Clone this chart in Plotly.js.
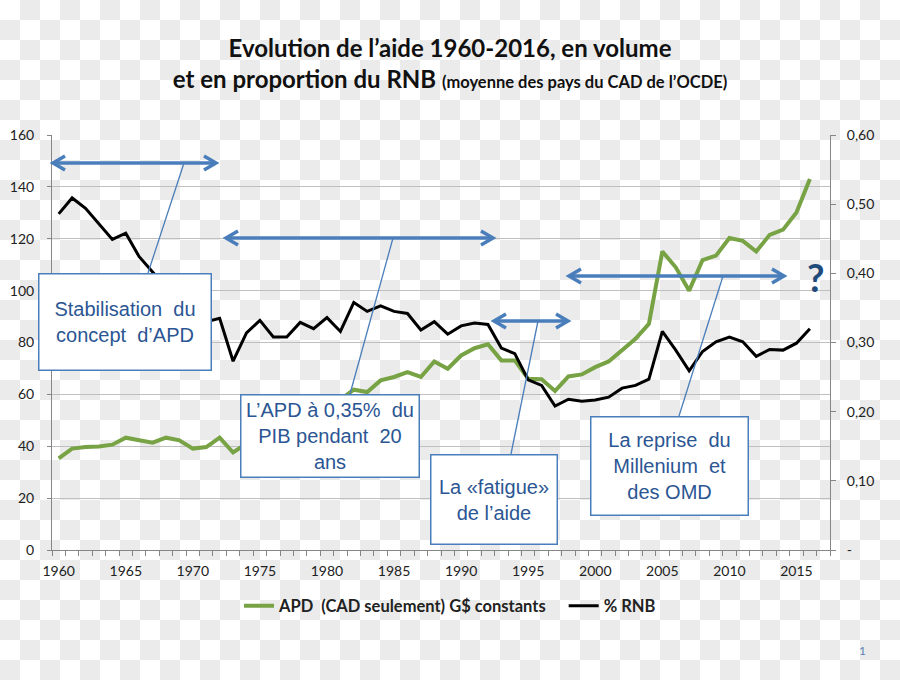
<!DOCTYPE html>
<html>
<head>
<meta charset="utf-8">
<script src="https://cdn.plot.ly/plotly-3.0.1.min.js"></script>
<style>
  html, body { margin: 0; padding: 0; }
  body {
    width: 900px; height: 680px; overflow: hidden;
    background: conic-gradient(#ebebeb 0 25%, #ffffff 0 50%, #ebebeb 0 75%, #ffffff 0) 0 0 / 40px 40px;
  }
  #chart { width: 900px; height: 680px; }
</style>
</head>
<body>
<div id="chart"></div>
<script>
// ---- data ----
const years = [1960,1961,1962,1963,1964,1965,1966,1967,1968,1969,
               1970,1971,1972,1973,1974,1975,1976,1977,1978,1979,
               1980,1981,1982,1983,1984,1985,1986,1987,1988,1989,
               1990,1991,1992,1993,1994,1995,1996,1997,1998,1999,
               2000,2001,2002,2003,2004,2005,2006,2007,2008,2009,
               2010,2011,2012,2013,2014,2015,2016];
// APD (CAD seulement), G$ constants (left axis)
const apd = [35.3,39.1,39.7,39.9,40.6,43.3,42.3,41.4,43.3,42.3,
             39.1,39.7,43.3,37.6,41.0,44.0,44.5,46.0,51.0,54.0,
             57.0,58.0,61.8,60.9,65.4,66.7,68.6,66.7,72.7,69.9,
             75.0,77.8,79.3,73.1,73.1,66.0,65.8,61.3,66.9,67.7,
             70.5,72.7,76.9,81.4,87.2,115.1,109.0,100.0,111.8,113.5,
             120.3,119.2,115.1,121.5,123.5,130.1,143.0];
// % RNB (right axis)
const rnb = [0.486,0.509,0.494,0.472,0.449,0.458,0.424,0.402,0.380,0.355,
             0.335,0.330,0.335,0.273,0.314,0.332,0.308,0.308,0.329,0.320,
             0.336,0.316,0.358,0.345,0.353,0.345,0.342,0.318,0.330,0.312,
             0.324,0.328,0.326,0.292,0.284,0.246,0.238,0.208,0.218,0.215,
             0.217,0.221,0.234,0.238,0.247,0.316,0.289,0.259,0.287,0.301,
             0.308,0.301,0.280,0.290,0.289,0.299,0.320];
const xTickVals = [1960,1965,1970,1975,1980,1985,1990,1995,2000,2005,2010,2015];
const yLeftTicks = [0,20,40,60,80,100,120,140,160];
const yRightVals = [0,0.1,0.2,0.3,0.4,0.5,0.6];
const yRightText = ['-','0,10','0,20','0,30','0,40','0,50','0,60'];
const seriesNames = ['APD\u00a0\u00a0(CAD seulement) G$ constants\u00a0\u00a0\u00a0', '% RNB'];

// ---- layout helpers (pixel -> paper) ----
const L = 52, R = 830, T = 135, B = 550;
const px = x => (x - L) / (R - L);
const py = y => (B - y) / (B - T);
const BLUE = '#4a7ebb';
const TXT = '#2b5693';

function dblArrow(x0, x1, y) {
  const s = [];
  s.push({type:'line', xref:'paper', yref:'paper', x0:px(x0+1), x1:px(x1-1), y0:py(y), y1:py(y),
          line:{color:BLUE, width:3.5}, layer:'above'});
  const hl = 12, hw = 7;
  s.push({type:'path', xref:'paper', yref:'paper', layer:'above',
          path:`M ${px(x0+hl)},${py(y-hw)} L ${px(x0)},${py(y)} L ${px(x0+hl)},${py(y+hw)}`,
          line:{color:BLUE, width:3.5}});
  s.push({type:'path', xref:'paper', yref:'paper', layer:'above',
          path:`M ${px(x1-hl)},${py(y-hw)} L ${px(x1)},${py(y)} L ${px(x1-hl)},${py(y+hw)}`,
          line:{color:BLUE, width:3.5}});
  return s;
}
function callout(xa, ya, xb, yb) {
  return {type:'line', xref:'paper', yref:'paper', x0:px(xa), y0:py(ya), x1:px(xb), y1:py(yb),
          line:{color:BLUE, width:1.3}, layer:'above'};
}
function box(text, x0, y0, x1, y1) {
  return {xref:'paper', yref:'paper', x:px((x0+x1)/2), y:py((y0+y1)/2),
          xanchor:'center', yanchor:'middle', showarrow:false, text:text, align:'center',
          width:(x1-x0)-2, height:(y1-y0)-2, borderpad:0, borderwidth:1.5,
          bordercolor:BLUE, bgcolor:'#ffffff',
          font:{family:'Liberation Sans, Arial, sans-serif', size:20, color:TXT}};
}

const shapes = [].concat(
  dblArrow(53, 216, 163),
  dblArrow(226, 493, 238),
  dblArrow(494, 568, 321),
  dblArrow(569, 784, 276),
  [callout(184, 163, 148, 273),
   callout(393, 238, 350, 394),
   callout(538, 321, 511, 454),
   callout(723, 276, 679, 416)]
);

const annotations = [
  box('Stabilisation\u00a0\u00a0du<br>concept\u00a0\u00a0d’APD', 38, 273, 211, 370),
  box('L’APD à 0,35%\u00a0\u00a0du<br>PIB pendant\u00a0\u00a020<br>ans', 240, 394, 419, 477),
  box('La «fatigue»<br>de l’aide', 430, 454, 557, 544),
  box('La reprise\u00a0\u00a0du<br>Millenium\u00a0\u00a0et<br>des OMD', 590, 416, 748, 515),
  {xref:'paper', yref:'paper', x:px(815), y:py(277), xanchor:'center', yanchor:'middle',
   showarrow:false, text:'<b>?</b>',
   font:{family:'Lato, sans-serif', size:38, color:'#1f4a7c'}},
  {xref:'paper', yref:'paper', x:px(862), y:py(650), xanchor:'center', yanchor:'middle',
   showarrow:false, text:'1',
   font:{family:'Lato, sans-serif', size:12, color:'#5b7fb5'}}
];

const traces = [
  {x: years, y: apd, type:'scatter', mode:'lines', name: seriesNames[0],
   line:{color:'#78a345', width:4}, yaxis:'y'},
  {x: years, y: rnb, type:'scatter', mode:'lines', name: seriesNames[1],
   line:{color:'#000000', width:3}, yaxis:'y2'}
];

const tickFont = {family:'Lato, sans-serif', size:14, color:'#222'};
const layout = {
  width: 900, height: 680,
  margin: {l: L, r: 900 - R, t: T, b: 680 - B, pad: 0},
  paper_bgcolor: 'rgba(0,0,0,0)',
  plot_bgcolor: 'rgba(0,0,0,0)',
  title: {
    text: 'Evolution de l’aide 1960-2016, en volume<br>et en proportion du RNB <span style="font-size:16.5px">(moyenne des pays du CAD de l’OCDE)</span>',
    font: {family:'Lato, sans-serif', size:24, color:'#111', weight:'bold'},
    x: 0.5, xanchor:'center', xref:'container',
    y: 1 - 57/680, yanchor:'top', yref:'container'
  },
  showlegend: true,
  legend: {orientation:'h', x:px(450), xanchor:'center', y:py(606), yanchor:'middle',
           xref:'paper', yref:'paper',
           font:{family:'Lato, sans-serif', size:16.5, color:'#222', weight:'bold'},
           bgcolor:'rgba(0,0,0,0)', itemwidth:30, traceorder:'normal'},
  xaxis: {
    range:[1959.5, 2017.5], tickvals:xTickVals, ticktext:xTickVals.map(String),
    ticks:'', showgrid:false, zeroline:false,
    showline:true, linecolor:'#868686', linewidth:1,
    tickfont: tickFont, ticklabelstandoff: 8,
    minor: {tick0:1959.5, dtick:1, ticks:'outside', ticklen:5, tickcolor:'#868686', tickwidth:1, showgrid:false}
  },
  yaxis: {
    range:[0,160], tickvals:yLeftTicks, ticktext:yLeftTicks.map(String),
    showgrid:true, gridcolor:'#bfbfbf', gridwidth:1, zeroline:false,
    showline:true, linecolor:'#868686', linewidth:1,
    ticks:'outside', ticklen:4, tickcolor:'#868686',
    tickfont: tickFont, ticklabelstandoff: 10
  },
  yaxis2: {
    range:[0,0.6], overlaying:'y', side:'right',
    tickvals:yRightVals, ticktext:yRightText,
    showgrid:false, zeroline:false,
    showline:true, linecolor:'#868686', linewidth:1,
    ticks:'outside', ticklen:5, tickcolor:'#868686',
    tickfont: tickFont, ticklabelstandoff: 8
  },
  shapes: shapes,
  annotations: annotations,
  hovermode: false
};

Plotly.newPlot('chart', traces, layout, {displayModeBar:false, staticPlot:true});
</script>
</body>
</html>
